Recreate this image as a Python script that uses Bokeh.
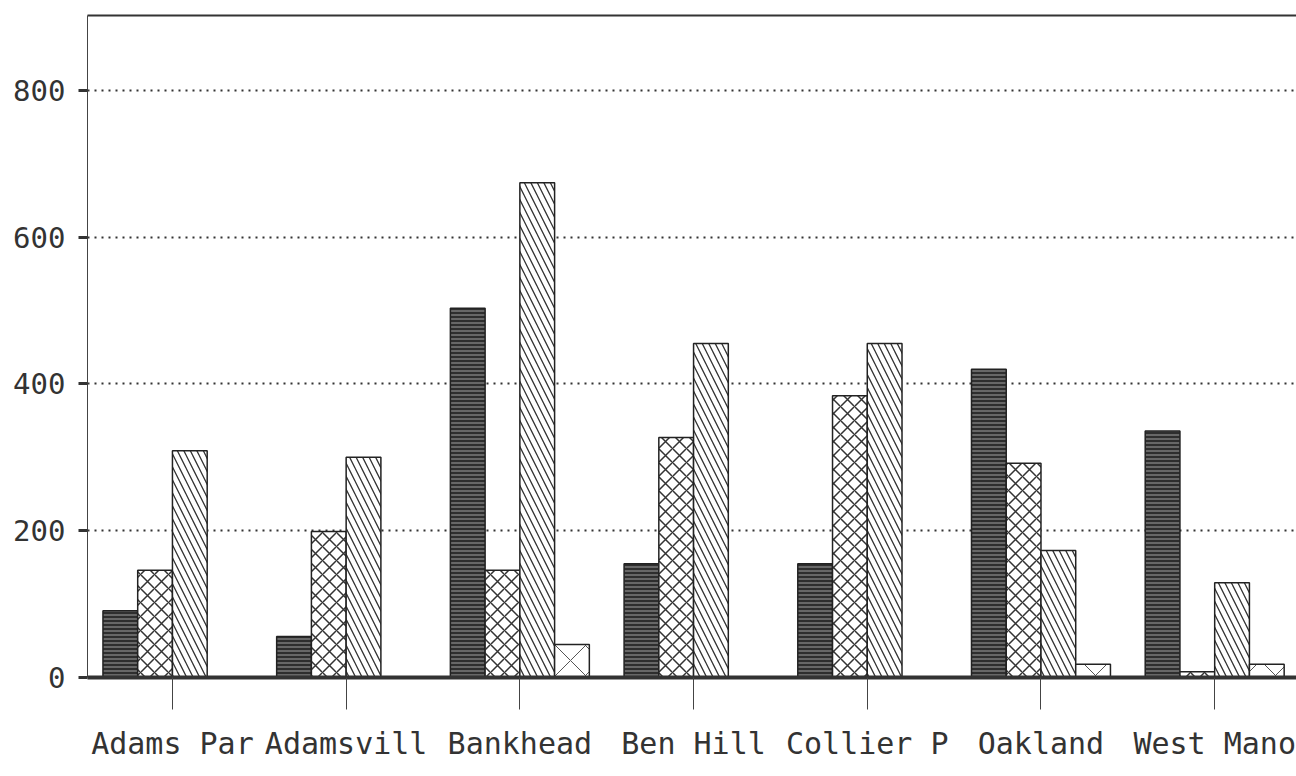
from bokeh.plotting import figure
from bokeh.models import ColumnDataSource, FixedTicker, LinearAxis, Range1d
from bokeh.transform import dodge
from bokeh.embed import file_html
from bokeh.resources import INLINE

categories = ["Adams Par", "Adamsvill", "Bankhead", "Ben Hill", "Collier P", "Oakland", "West Mano"]
series1 = [91, 56, 503, 155, 155, 420, 336]
series2 = [146, 199, 146, 327, 384, 292, 8]
series3 = [309, 300, 674, 455, 455, 173, 129]
series4 = [0, 0, 45, 0, 0, 18, 18]
y_ticks = [0, 200, 400, 600, 800]

idx = list(range(len(categories)))
src = ColumnDataSource(dict(x=idx, s1=series1, s2=series2, s3=series3, s4=series4))

p = figure(width=1296, height=776, output_backend="svg", toolbar_location=None,
           x_range=Range1d(-0.489, 6.471), y_range=Range1d(0, 902),
           min_border_left=87, min_border_right=0, min_border_top=15, min_border_bottom=99)
p.outline_line_color = None
p.background_fill_color = "white"
p.border_fill_color = "white"

bw = 0.2
styles = [
    dict(fill_color="#2e2e2e", hatch_pattern="horizontal_line", hatch_color="#a0a0a0", hatch_scale=4, hatch_weight=1),
    dict(fill_color="white", hatch_pattern="diagonal_cross", hatch_color="#333333", hatch_scale=14, hatch_weight=1.5),
    dict(fill_color="white", hatch_pattern="left_diagonal_line", hatch_color="#333333", hatch_scale=13, hatch_weight=1.3),
    dict(fill_color="white", hatch_pattern="diagonal_cross", hatch_color="#555555", hatch_scale=30, hatch_weight=1),
]
for j, (col, st) in enumerate(zip(["s1", "s2", "s3", "s4"], styles)):
    p.vbar(x=dodge("x", (j - 1.5) * bw, range=p.x_range), top=col, bottom=0, width=bw, source=src,
           line_color="#222222", line_width=1.5, **st)

# axes
p.xaxis.ticker = FixedTicker(ticks=idx)
p.xaxis.major_label_overrides = {i: c for i, c in enumerate(categories)}
p.xaxis.axis_line_width = 4
p.xaxis.axis_line_color = "#333333"
p.xaxis.major_tick_out = 32
p.xaxis.major_tick_in = 0
p.xaxis.major_tick_line_width = 1
p.xaxis.major_tick_line_color = "#444444"
p.xaxis.minor_tick_line_color = None
p.xaxis.major_label_standoff = 16
p.xaxis.major_label_text_font = "DejaVu Sans Mono"
p.xaxis.major_label_text_font_size = "30px"
p.xaxis.major_label_text_color = "#333333"

p.yaxis.ticker = FixedTicker(ticks=y_ticks)
p.yaxis.axis_line_width = 1
p.yaxis.axis_line_color = "#444444"
p.yaxis.major_tick_out = 9
p.yaxis.major_tick_in = 0
p.yaxis.major_tick_line_width = 3
p.yaxis.major_tick_line_color = "#333333"
p.yaxis.minor_tick_line_color = None
p.yaxis.major_label_standoff = 13
p.yaxis.major_label_text_font = "DejaVu Sans Mono"
p.yaxis.major_label_text_font_size = "29px"
p.yaxis.major_label_text_color = "#333333"

top_axis = LinearAxis(ticker=FixedTicker(ticks=[]), axis_line_width=2, axis_line_color="#333333",
                      major_tick_out=0, major_tick_in=0, minor_tick_out=0, minor_tick_in=0,
                      major_label_text_font_size="0px")
p.add_layout(top_axis, "above")

p.xgrid.grid_line_color = None
p.ygrid.ticker = FixedTicker(ticks=y_ticks[1:])
p.ygrid.grid_line_color = "#333333"
p.ygrid.grid_line_width = 2
p.ygrid.grid_line_dash = "2 5"

open("out.html", "w").write(file_html(p, INLINE))
